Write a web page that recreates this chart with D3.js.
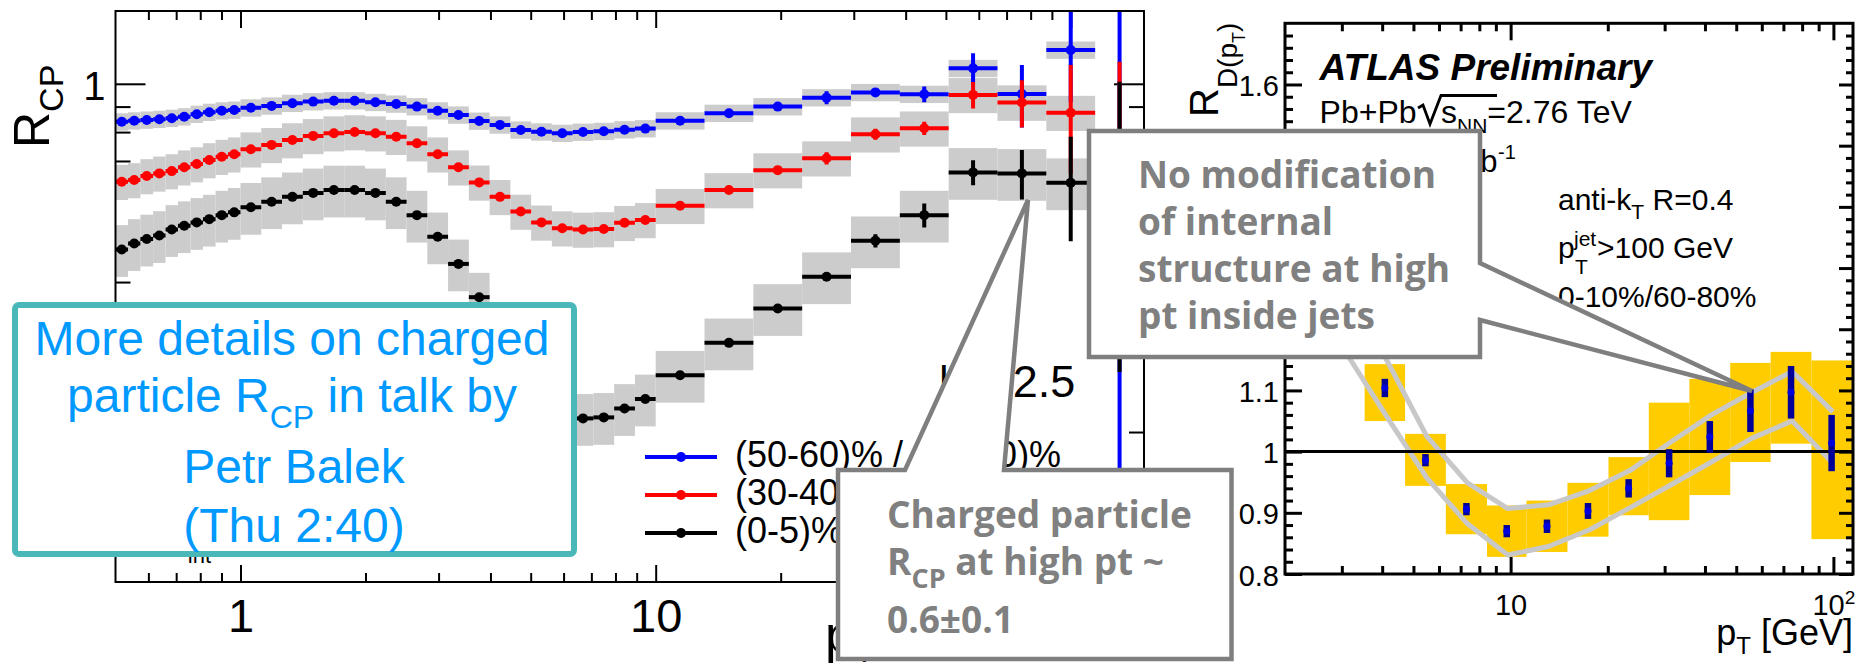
<!DOCTYPE html>
<html><head><meta charset="utf-8">
<script src="https://cdn.jsdelivr.net/npm/d3@7"></script>
<style>
html,body{margin:0;padding:0;background:#fff;overflow:hidden}
svg{display:block}
text{white-space:pre}
</style></head><body>
<svg id="slide" width="1861" height="669"></svg>
<script>
// ---------------- charged-particle R_CP (left panel) ----------------
const cpEdges = [0.5, 0.536, 0.574, 0.616, 0.660, 0.707, 0.758, 0.812, 0.871, 0.933,
  1.0, 1.122, 1.259, 1.413, 1.585, 1.778, 1.995, 2.239, 2.512, 2.818,
  3.162, 3.548, 3.981, 4.467, 5.012, 5.623, 6.310, 7.079, 7.943, 8.913,
  10.0, 13.11, 17.19, 22.53, 29.54, 38.73, 50.77, 66.56, 87.26, 114.4, 150];

// (50-60)% / (60-80)%
const rcpPeripheral = [0.839, 0.843, 0.846, 0.849, 0.853, 0.859, 0.869, 0.877, 0.883, 0.886,
  0.895, 0.903, 0.914, 0.921, 0.925, 0.925, 0.918, 0.911, 0.900, 0.883,
  0.866, 0.842, 0.827, 0.808, 0.801, 0.796, 0.800, 0.803, 0.809, 0.813,
  0.843, 0.873, 0.900, 0.938, 0.961, 0.953, 1.074, 0.954, 1.169, 0.60];
// (30-40)% / (60-80)%
const rcpMid = [0.636, 0.641, 0.653, 0.661, 0.668, 0.680, 0.690, 0.703, 0.714, 0.722,
  0.739, 0.754, 0.771, 0.786, 0.796, 0.800, 0.796, 0.783, 0.760, 0.722,
  0.680, 0.634, 0.593, 0.554, 0.527, 0.513, 0.510, 0.511, 0.526, 0.533,
  0.569, 0.612, 0.671, 0.709, 0.792, 0.814, 0.950, 0.917, 0.875, 0.75];
// (0-5)% / (60-80)%
const rcpCentral = [0.465, 0.478, 0.488, 0.496, 0.510, 0.519, 0.527, 0.535, 0.545, 0.552,
  0.565, 0.580, 0.593, 0.604, 0.612, 0.612, 0.604, 0.580, 0.545, 0.493,
  0.435, 0.373, null, null, null, null, 0.213, 0.214, 0.223, 0.233,
  0.260, 0.302, 0.354, 0.410, 0.484, 0.545, 0.664, 0.661, 0.633, 0.637];

// statistical uncertainties (absolute)
const statPeripheral = [0,0,0,0,0,0,0,0,0,0, 0,0,0,0,0,0,0,0,0,0, 0,0,0,0,0,0,0,0,0,0,
  0, 0, 0.010, 0.028, 0.015, 0.035, 0.077, 0.137, 0.25, 0.9];
const statMid = [0,0,0,0,0,0,0,0,0,0, 0,0,0,0,0,0,0,0,0,0, 0,0,0,0,0,0,0,0,0,0,
  0, 0, 0.010, 0.020, 0.020, 0.025, 0.058, 0.100, 0.216, 0.357];
const statCentral = [0,0,0,0,0,0,0,0,0,0, 0,0,0,0,0,0,0,0,0,0, 0,0,0,0,0,0,0,0,0,0,
  0, 0, 0, 0, 0.015, 0.030, 0.038, 0.075, 0.150, 0.373];

// relative systematic uncertainties (grey boxes)
const sysPeripheral = 0.040, sysMid = 0.081, sysCentral = 0.119;

const legendLabels = ["(50-60)% / (60-80)%", "(30-40)% / (60-80)%", "(0-5)% / (60-80)%"];
const cpTicksMajor = [1, 10, 100];
const cpTicksMinor = [0.6, 0.7, 0.8, 0.9, 2, 3, 4, 5, 6, 7, 8, 9, 20, 30, 40, 50, 60, 70, 80, 90];
const rcpTicksMajor = [1];
const rcpTicksMinor = [0.2, 0.3, 0.4, 0.5, 0.6, 0.7, 0.8, 0.9];

// ---------------- jet fragmentation ratio R_D(pT) (right panel) ----------------
const jetEdges = [3.53, 4.71, 6.30, 8.45, 11.2, 15.0, 20.1, 26.8, 35.8, 47.9, 63.9, 85.5, 114];
const jetRatio = [1.104, 0.986, 0.906, 0.870, 0.878, 0.903, 0.940, 0.981, 1.024, 1.067, 1.097, 1.014];
const jetStat = [0.015, 0.010, 0.010, 0.010, 0.011, 0.013, 0.015, 0.023, 0.026, 0.035, 0.043, 0.046];
const jetSysLow = [1.050, 0.944, 0.865, 0.828, 0.836, 0.861, 0.896, 0.888, 0.929, 0.983, 1.013, 0.857];
const jetSysHigh = [1.143, 1.029, 0.947, 0.912, 0.920, 0.949, 0.991, 1.080, 1.119, 1.145, 1.163, 1.149];
const curvePt = [3.07, 4.1, 5.5, 7.35, 9.8, 13.1, 17.5, 23.4, 31.2, 41.9, 56.0, 74.5, 99.7];
const curveUpper = [1.267, 1.153, 1.025, 0.949, 0.907, 0.913, 0.936, 0.969, 1.015, 1.060, 1.097, 1.131, 1.065];
const curveLower = [1.164, 1.060, 0.957, 0.882, 0.831, 0.845, 0.872, 0.908, 0.945, 0.983, 1.022, 1.050, 0.981];
const jetTicksMajor = [10, 100];
const jetTicksMinor = [3, 4, 5, 6, 7, 8, 9, 20, 30, 40, 50, 60, 70, 80, 90];
const ratioTicksMajor = [0.8, 0.9, 1.0, 1.1, 1.2, 1.3, 1.4, 1.5, 1.6];
const ratioTickLabels = [0.8, 0.9, 1.0, 1.1, 1.6];

// ---------------- helpers ----------------
const svg = d3.select("#slide");
const ROOTFONT = "'Liberation Sans', Arial, Helvetica, sans-serif";
const NOTEFONT = "'Open Sans', 'Liberation Sans', sans-serif";

function rich(g, x, y, parts, attrs) {
  const t = g.append("text").attr("x", x).attr("y", y);
  Object.entries(attrs || {}).forEach(([k, v]) => t.attr(k, v));
  let off = 0;
  parts.forEach(p => {
    const o = p.off || 0;
    const s = t.append("tspan").text(p.t).attr("dy", o - off);
    if (p.size) s.attr("font-size", p.size);
    off = o;
  });
  return t;
}

function axisLayer(g, axisFn, scale, values, size, pad, fmt, width) {
  const a = axisFn(scale).tickValues(values).tickSizeInner(size).tickSizeOuter(0)
    .tickPadding(pad).tickFormat(fmt || (() => ""));
  const s = g.append("g").call(a);
  s.select(".domain").remove();
  s.selectAll("line").attr("stroke", "#000").attr("stroke-width", width);
  s.selectAll("text").filter(function () { return this.textContent === ""; }).remove();
  return s;
}

// ================= left panel =================
const L = {left: 115.5, right: 1144, top: 11, bottom: 582};
const xL = d3.scaleLog().domain([0.5, 150]).range([L.left, L.right]);
const yL = d3.scaleLog().domain([0.1, 1.4]).range([L.bottom, L.top]);
const clampL = v => Math.max(0.1, Math.min(1.4, v));

svg.append("defs").append("clipPath").attr("id", "clipL").append("rect")
  .attr("x", L.left).attr("y", L.top).attr("width", L.right - L.left).attr("height", L.bottom - L.top);

const gL = svg.append("g");

// axes (ticks) sit underneath the uncertainty boxes
const axL = gL.append("g").attr("font-family", ROOTFONT);
const bottomMajor = axisLayer(axL.append("g").attr("transform", `translate(0,${L.bottom})`),
  d3.axisBottom, xL, cpTicksMajor, -17, 17, d => (d === 100 ? "" : String(d)), 2);
bottomMajor.selectAll("text").attr("font-size", 47).attr("fill", "#000");
axisLayer(axL.append("g").attr("transform", `translate(0,${L.bottom})`), d3.axisBottom, xL, cpTicksMinor, -9, 0, null, 2);
axisLayer(axL.append("g").attr("transform", `translate(0,${L.top})`), d3.axisTop, xL, cpTicksMajor, -17, 0, null, 2);
axisLayer(axL.append("g").attr("transform", `translate(0,${L.top})`), d3.axisTop, xL, cpTicksMinor, -9, 0, null, 2);
const leftMajor = axisLayer(axL.append("g").attr("transform", `translate(${L.left},0)`),
  d3.axisLeft, yL, rcpTicksMajor, -30, 10, d => String(d), 2);
leftMajor.selectAll("text").attr("font-size", 40).attr("fill", "#000").attr("dy", "0.38em");
axisLayer(axL.append("g").attr("transform", `translate(${L.left},0)`), d3.axisLeft, yL, rcpTicksMinor, -15, 0, null, 2);
axisLayer(axL.append("g").attr("transform", `translate(${L.right},0)`), d3.axisRight, yL, rcpTicksMajor, -30, 0, null, 2);
axisLayer(axL.append("g").attr("transform", `translate(${L.right},0)`), d3.axisRight, yL, rcpTicksMinor, -15, 0, null, 2);

const plotL = gL.append("g").attr("clip-path", "url(#clipL)");

const series = [
  {vals: rcpPeripheral, stat: statPeripheral, sys: sysPeripheral, color: "#0000ff"},
  {vals: rcpMid, stat: statMid, sys: sysMid, color: "#ff0000"},
  {vals: rcpCentral, stat: statCentral, sys: sysCentral, color: "#000000"}
];
const nBins = cpEdges.length - 1;
const binIdx = d3.range(nBins);

// systematic boxes first (all series), then the points on top
series.forEach(s => {
  plotL.append("g").selectAll("rect")
    .data(binIdx.filter(i => s.vals[i] != null && i < nBins - 1))
    .join("rect")
    .attr("x", i => xL(cpEdges[i]))
    .attr("width", i => xL(cpEdges[i + 1]) - xL(cpEdges[i]))
    .attr("y", i => yL(clampL(s.vals[i] * (1 + s.sys))))
    .attr("height", i => yL(clampL(s.vals[i] * (1 - s.sys))) - yL(clampL(s.vals[i] * (1 + s.sys))))
    .attr("fill", "#cccccc");
});

series.forEach(s => {
  const g = plotL.append("g");
  const idx = binIdx.filter(i => s.vals[i] != null);
  g.selectAll("line.h").data(idx).join("line").attr("class", "h")
    .attr("x1", i => xL(cpEdges[i])).attr("x2", i => xL(cpEdges[i + 1]))
    .attr("y1", i => yL(s.vals[i])).attr("y2", i => yL(s.vals[i]))
    .attr("stroke", s.color).attr("stroke-width", 4);
  g.selectAll("line.v").data(idx.filter(i => s.stat[i] > 0)).join("line").attr("class", "v")
    .attr("x1", i => xL(Math.sqrt(cpEdges[i] * cpEdges[i + 1])))
    .attr("x2", i => xL(Math.sqrt(cpEdges[i] * cpEdges[i + 1])))
    .attr("y1", i => yL(clampL(s.vals[i] + s.stat[i])))
    .attr("y2", i => yL(clampL(s.vals[i] - s.stat[i])))
    .attr("stroke", s.color).attr("stroke-width", 4);
  g.selectAll("circle").data(idx).join("circle")
    .attr("cx", i => xL(Math.sqrt(cpEdges[i] * cpEdges[i + 1])))
    .attr("cy", i => yL(s.vals[i]))
    .attr("r", 5).attr("fill", s.color);
});

gL.append("rect").attr("x", L.left).attr("y", L.top).attr("width", L.right - L.left)
  .attr("height", L.bottom - L.top).attr("fill", "none").attr("stroke", "#000").attr("stroke-width", 2);

// axis titles
const tL = gL.append("g").attr("font-family", ROOTFONT).attr("fill", "#000");
rich(tL.append("g").attr("transform", "translate(49,148) rotate(-90)"), 0, 0,
  [{t: "R", size: 50}, {t: "CP", size: 34, off: 14}]);
rich(tL, 825, 652, [{t: "p", size: 52}, {t: "T", size: 34, off: 10}]);

// legend
const legY = [457, 495, 533];
series.forEach((s, k) => {
  tL.append("line").attr("x1", 645).attr("x2", 717).attr("y1", legY[k]).attr("y2", legY[k])
    .attr("stroke", s.color).attr("stroke-width", 4);
  tL.append("circle").attr("cx", 681).attr("cy", legY[k]).attr("r", 5).attr("fill", s.color);
  tL.append("text").attr("x", 735).attr("y", legY[k] + 10).attr("font-size", 36).text(legendLabels[k]);
});
tL.append("text").attr("x", 938).attr("y", 397).attr("font-size", 45).text("|η|<2.5");
rich(tL, 170, 555, [{t: "L", size: 32}, {t: "int", size: 22, off: 8}]);

// ================= right panel =================
const R = {left: 1285, right: 1853, top: 23.3, bottom: 574};
const xR = d3.scaleLog().domain([2, 115]).range([R.left, R.right]);
const yR = d3.scaleLinear().domain([0.8, 1.7]).range([R.bottom, R.top]);
svg.append("defs").append("clipPath").attr("id", "clipR").append("rect")
  .attr("x", R.left).attr("y", R.top).attr("width", R.right - R.left).attr("height", R.bottom - R.top);
const gR = svg.append("g");
const plotR = gR.append("g").attr("clip-path", "url(#clipR)");
const jIdx = d3.range(jetRatio.length);

plotR.append("g").selectAll("rect").data(jIdx).join("rect")
  .attr("x", i => xR(jetEdges[i])).attr("width", i => xR(jetEdges[i + 1]) - xR(jetEdges[i]))
  .attr("y", i => yR(jetSysHigh[i])).attr("height", i => yR(jetSysLow[i]) - yR(jetSysHigh[i]))
  .attr("fill", "#ffcc00");

const curve = d3.line().x((d, i) => xR(curvePt[i])).y(d => yR(d));
[curveUpper, curveLower].forEach(c => plotR.append("path").attr("d", curve(c))
  .attr("fill", "none").attr("stroke", "#c8c8c8").attr("stroke-width", 5).attr("stroke-linejoin", "round"));

plotR.append("line").attr("x1", R.left).attr("x2", R.right).attr("y1", yR(1)).attr("y2", yR(1))
  .attr("stroke", "#000").attr("stroke-width", 3);

const jx = i => xR(Math.sqrt(jetEdges[i] * jetEdges[i + 1]));
plotR.append("g").selectAll("line").data(jIdx).join("line")
  .attr("x1", jx).attr("x2", jx)
  .attr("y1", i => yR(jetRatio[i] + jetStat[i])).attr("y2", i => yR(jetRatio[i] - jetStat[i]))
  .attr("stroke", "#000099").attr("stroke-width", 6.5);
plotR.append("g").selectAll("circle").data(jIdx).join("circle")
  .attr("cx", jx).attr("cy", i => yR(jetRatio[i])).attr("r", 3.5).attr("fill", "#0000dd");

const axR = gR.append("g").attr("font-family", ROOTFONT);
const rb = axisLayer(axR.append("g").attr("transform", `translate(0,${R.bottom})`),
  d3.axisBottom, xR, jetTicksMajor, -17, 20, d => "10", 3);
rb.selectAll("text").attr("font-size", 29).attr("fill", "#000")
  .each(function (d) {
    if (d === 100) d3.select(this).append("tspan").text("2").attr("font-size", 19).attr("dy", "-0.55em");
  });
axisLayer(axR.append("g").attr("transform", `translate(0,${R.bottom})`), d3.axisBottom, xR, jetTicksMinor, -8, 0, null, 3);
axisLayer(axR.append("g").attr("transform", `translate(0,${R.top})`), d3.axisTop, xR, jetTicksMajor, -17, 0, null, 3);
axisLayer(axR.append("g").attr("transform", `translate(0,${R.top})`), d3.axisTop, xR, jetTicksMinor, -8, 0, null, 3);
const ratioMinor = d3.range(0.82, 1.70, 0.02).filter(v => Math.abs(v * 10 - Math.round(v * 10)) > 0.05);
const rl = axisLayer(axR.append("g").attr("transform", `translate(${R.left},0)`),
  d3.axisLeft, yR, ratioTicksMajor, -17, 6,
  d => (ratioTickLabels.some(v => Math.abs(v - d) < 1e-6) ? d3.format("~g")(d) : ""), 3);
rl.selectAll("text").attr("font-size", 29).attr("fill", "#000").attr("dy", "0.38em");
axisLayer(axR.append("g").attr("transform", `translate(${R.left},0)`), d3.axisLeft, yR, ratioMinor, -8, 0, null, 3);
axisLayer(axR.append("g").attr("transform", `translate(${R.right},0)`), d3.axisRight, yR, ratioTicksMajor, -14, 0, null, 3);
axisLayer(axR.append("g").attr("transform", `translate(${R.right},0)`), d3.axisRight, yR, ratioMinor, -7, 0, null, 3);
gR.append("rect").attr("x", R.left).attr("y", R.top).attr("width", R.right - R.left)
  .attr("height", R.bottom - R.top).attr("fill", "none").attr("stroke", "#000").attr("stroke-width", 3);

const tR = gR.append("g").attr("font-family", ROOTFONT).attr("fill", "#000");
rich(tR.append("g").attr("transform", "translate(1218,117) rotate(-90)"), 0, 0,
  [{t: "R", size: 40}, {t: "D(p", size: 28, off: 19}, {t: "T", size: 18, off: 27}, {t: ")", size: 28, off: 19}]);
rich(tR, R.right, 645, [{t: "p", size: 36}, {t: "T", size: 24, off: 9}, {t: " [GeV]", size: 36, off: 0}],
  {"text-anchor": "end"});
tR.append("text").attr("x", 1319.6).attr("y", 80).attr("font-size", 37)
  .attr("font-weight", "bold").attr("font-style", "italic").text("ATLAS Preliminary");
tR.append("text").attr("x", 1319.6).attr("y", 123).attr("font-size", 32).text("Pb+Pb");
tR.append("path").attr("d", "M1418,108 L1423,105 L1430,124 L1441,95.5 L1497,95.5")
  .attr("fill", "none").attr("stroke", "#000").attr("stroke-width", 2.8);
rich(tR, 1441, 123, [{t: "s", size: 32}, {t: "NN", size: 21, off: 10}, {t: "=2.76 TeV", size: 32, off: 0}]);
tR.append("text").attr("x", 1497.5).attr("y", 172).attr("font-size", 31).attr("text-anchor", "end")
  .text("\u222BLdt = 0.14 nb");
tR.append("text").attr("x", 1498).attr("y", 159).attr("font-size", 20).text("-1");
rich(tR, 1558, 210, [{t: "anti-k", size: 30}, {t: "T", size: 21, off: 9}, {t: " R=0.4", size: 30, off: 0}]);
tR.append("text").attr("x", 1558).attr("y", 258).attr("font-size", 30).text("p");
tR.append("text").attr("x", 1574).attr("y", 246).attr("font-size", 21).text("jet");
tR.append("text").attr("x", 1575).attr("y", 274).attr("font-size", 21).text("T");
tR.append("text").attr("x", 1597).attr("y", 258).attr("font-size", 30).text(">100 GeV");
tR.append("text").attr("x", 1558).attr("y", 307).attr("font-size", 30).text("0-10%/60-80%");

// ================= call-outs =================
const notes = svg.append("g").attr("font-family", NOTEFONT).attr("font-weight", "bold").attr("fill", "#808080");
notes.append("path").attr("d", "M1089,131 L1480,131 L1480,263 L1752,391 L1480,320 L1480,357 L1089,357 Z")
  .attr("fill", "#fff").attr("stroke", "#7f7f7f").attr("stroke-width", 4.5).attr("stroke-linejoin", "miter");
["No modification", "of internal", "structure at high", "pt inside jets"].forEach((s, k) =>
  notes.append("text").attr("x", 1138).attr("y", 188 + 47 * k).attr("font-size", 37).text(s));

notes.append("path").attr("d", "M838,470 L905,470 L1028,200 L1004,470 L1231.5,470 L1231.5,659 L838,659 Z")
  .attr("fill", "#fff").attr("stroke", "#7f7f7f").attr("stroke-width", 4.5).attr("stroke-linejoin", "miter");
notes.append("text").attr("x", 887).attr("y", 528).attr("font-size", 37).text("Charged particle");
rich(notes, 887, 575, [{t: "R", size: 37}, {t: "CP", size: 27, off: 13}, {t: " at high pt ~", size: 37, off: 0}]);
notes.append("text").attr("x", 887).attr("y", 633).attr("font-size", 37).text("0.6\u00B10.1");

const info = svg.append("g").attr("font-family", ROOTFONT).attr("fill", "#0099ff").attr("text-anchor", "middle");
info.append("rect").attr("x", 15).attr("y", 305).attr("width", 559).attr("height", 249).attr("rx", 4)
  .attr("fill", "#fff").attr("stroke", "#4ab8b8").attr("stroke-width", 6);
info.append("text").attr("x", 292).attr("y", 355).attr("font-size", 48).text("More details on charged");
rich(info, 292, 412, [{t: "particle R", size: 48}, {t: "CP", size: 32, off: 16}, {t: " in talk by", size: 48, off: 0}]);
info.append("text").attr("x", 294).attr("y", 483).attr("font-size", 48).text("Petr Balek");
info.append("text").attr("x", 294).attr("y", 542).attr("font-size", 48).text("(Thu 2:40)");
</script></body></html>
